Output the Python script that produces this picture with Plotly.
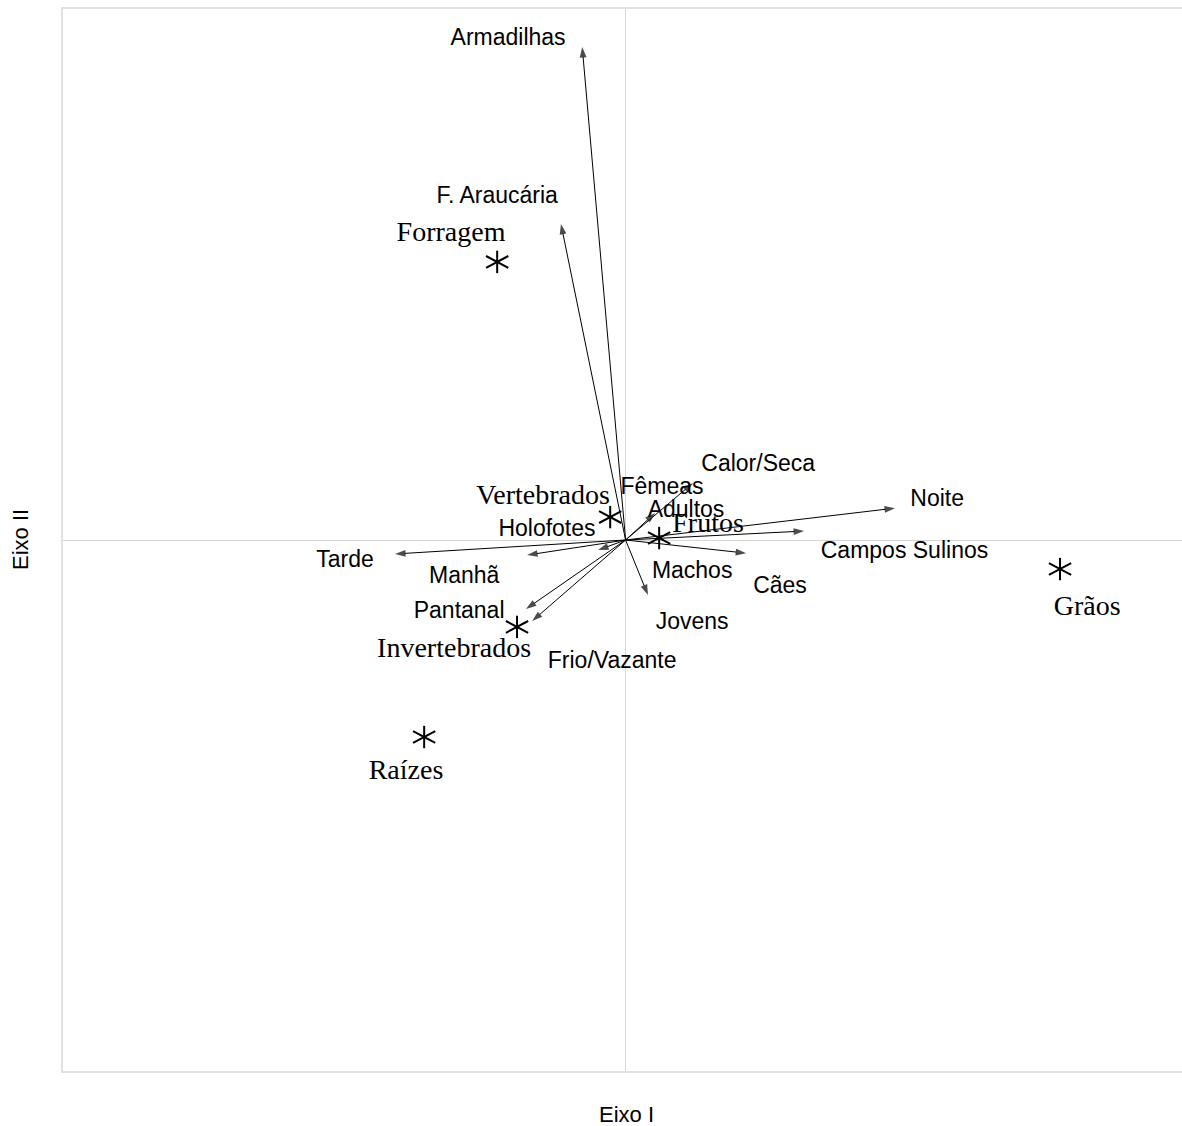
import plotly.graph_objects as go

# Explanatory variables drawn as vectors from the origin (Eixo I, Eixo II)
vec_names = ["Armadilhas", "F. Araucária", "Calor/Seca", "Adultos", "Noite",
             "Campos Sulinos", "Cães", "Jovens", "Frio/Vazante", "Pantanal",
             "Manhã", "Tarde", "Holofotes"]
vec_x = [-0.155, -0.231, 0.241, 0.106, 0.963, 0.638, 0.431, 0.080,
         -0.334, -0.356, -0.352, -0.824, -0.098]
vec_y = [1.764, 1.131, 0.204, 0.097, 0.114, 0.032, -0.047, -0.197,
         -0.290, -0.247, -0.054, -0.050, -0.036]

# Label anchors for the variables
var_labels = ["Armadilhas", "F. Araucária", "Calor/Seca", "Fêmeas", "Adultos",
              "Noite", "Campos Sulinos", "Cães", "Machos", "Jovens",
              "Frio/Vazante", "Pantanal", "Manhã", "Tarde", "Holofotes"]
var_lab_x = [-0.420, -0.459, 0.474, 0.130, 0.216, 1.114, 0.997, 0.552,
             0.238, 0.238, -0.048, -0.595, -0.577, -1.003, -0.281]
var_lab_y = [1.793, 1.227, 0.268, 0.186, 0.104, 0.143, -0.043, -0.168,
             -0.114, -0.297, -0.436, -0.257, -0.132, -0.075, 0.036]

# Diet items (scores) and their label anchors
diet_names = ["Forragem", "Vertebrados", "Frutos", "Grãos", "Invertebrados", "Raízes"]
diet_x = [-0.459, -0.055, 0.120, 1.553, -0.388, -0.720]
diet_y = [0.995, 0.082, 0.007, -0.104, -0.311, -0.705]
diet_lab_x = [-0.624, -0.295, 0.295, 1.650, -0.613, -0.785]
diet_lab_y = [1.095, 0.154, 0.054, -0.243, -0.393, -0.830]

INK = "#000000"
SANS = "Liberation Sans, Arial, sans-serif"
SERIF = "Liberation Serif, Times New Roman, serif"

fig = go.Figure()

# Vectors: thin line with a narrow arrowhead at the tip
for vx, vy in zip(vec_x, vec_y):
    fig.add_trace(go.Scatter(
        x=[0, vx], y=[0, vy], mode="lines+markers",
        line=dict(color=INK, width=1),
        marker=dict(symbol="arrow", size=[0, 11], angleref="previous",
                    color=INK, line=dict(width=0)),
        hoverinfo="skip",
    ))

# Asterisk markers built from a vertical stroke and two slanted strokes
asterisk_parts = [("line-ns-open", 0, 16), ("line-ew-open", 28, 18), ("line-ew-open", -28, 18)]
for sym, ang, sz in asterisk_parts:
    fig.add_trace(go.Scatter(
        x=diet_x, y=diet_y, mode="markers",
        marker=dict(symbol=sym, angle=ang, size=sz, color=INK,
                    line=dict(color=INK, width=2)),
        hoverinfo="skip",
    ))

# Variable labels (sans-serif)
fig.add_trace(go.Scatter(
    x=var_lab_x, y=var_lab_y, mode="text", text=var_labels,
    textposition="middle center",
    textfont=dict(family=SANS, size=23, color=INK),
    hoverinfo="skip",
))

# Diet item labels (serif)
fig.add_trace(go.Scatter(
    x=diet_lab_x, y=diet_lab_y, mode="text", text=diet_names,
    textposition="middle center",
    textfont=dict(family=SERIF, size=28, color=INK),
    hoverinfo="skip",
))

axis_common = dict(showgrid=False, zeroline=True, zerolinecolor="#d6d6d6",
                   zerolinewidth=1, showticklabels=False, ticks="",
                   showline=True, linecolor="#e2e2e2", linewidth=1.5)
fig.update_xaxes(range=[-2.011, 1.989], mirror=True, **axis_common)
fig.update_yaxes(range=[-1.9, 1.9], mirror=False, **axis_common)

fig.update_layout(
    width=1182, height=1126,
    margin=dict(l=63, r=0, t=9, b=55),
    plot_bgcolor="white", paper_bgcolor="white",
    showlegend=False,
    annotations=[
        dict(text="Eixo I", x=0.504, y=-0.0405, xref="paper", yref="paper",
             xanchor="center", yanchor="middle", showarrow=False,
             font=dict(family=SANS, size=22, color=INK)),
        dict(text="Eixo II", x=-0.0384, y=0.5, xref="paper", yref="paper",
             xanchor="center", yanchor="middle", showarrow=False, textangle=-90,
             font=dict(family=SANS, size=22, color=INK)),
    ],
)

fig.write_html("out.html")
